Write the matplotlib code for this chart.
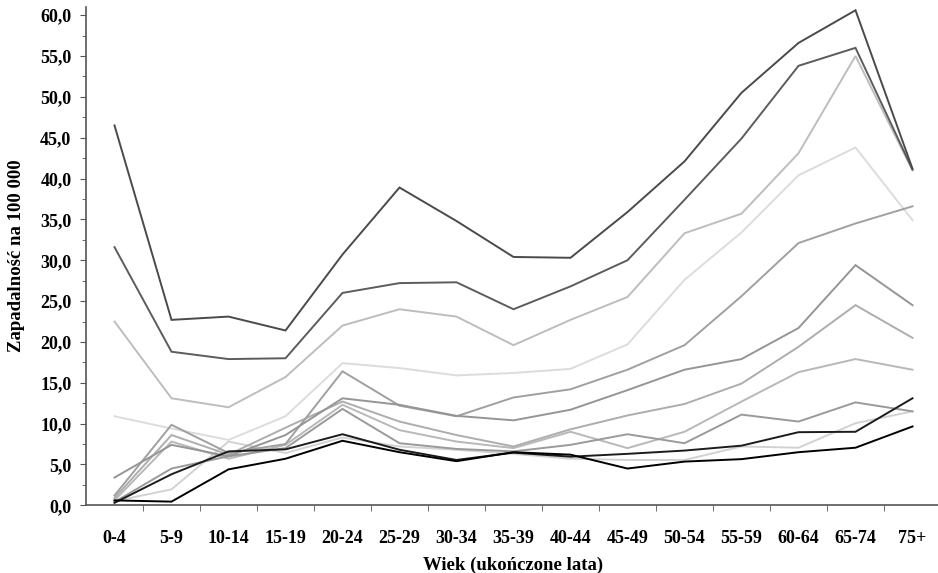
import matplotlib
matplotlib.use('Agg')
import matplotlib.pyplot as plt
from matplotlib.ticker import MultipleLocator, FuncFormatter

plt.rcParams['font.family'] = ['Liberation Serif', 'DejaVu Serif']
plt.rcParams['font.weight'] = 'bold'

# ==================== dane ====================
wiek = ['0-4', '5-9', '10-14', '15-19', '20-24', '25-29', '30-34', '35-39',
        '40-44', '45-49', '50-54', '55-59', '60-64', '65-74', '75+']

s_a = [46.5, 22.7, 23.1, 21.4, 30.7, 38.9, 34.8, 30.4, 30.3, 35.9, 42.1, 50.5, 56.6, 60.6, 41.2]
s_b = [31.6, 18.8, 17.9, 18.0, 26.0, 27.2, 27.3, 24.0, 26.8, 30.0, 37.4, 44.9, 53.8, 56.0, 41.1]
s_c = [22.5, 13.1, 12.0, 15.7, 22.0, 24.0, 23.1, 19.6, 22.7, 25.5, 33.3, 35.7, 43.1, 55.0, 41.0]
s_d = [10.9, 9.4, 8.0, 10.9, 17.4, 16.8, 15.9, 16.2, 16.7, 19.7, 27.6, 33.4, 40.4, 43.8, 34.9]
s_e = [1.2, 9.85, 6.4, 7.5, 16.4, 12.2, 10.9, 13.2, 14.2, 16.6, 19.6, 25.6, 32.1, 34.5, 36.6]
s_f = [3.4, 7.4, 6.0, 8.6, 13.1, 12.3, 10.95, 10.4, 11.7, 14.1, 16.6, 17.9, 21.7, 29.4, 24.5]
s_g = [0.9, 8.6, 6.2, 9.5, 12.7, 10.25, 8.6, 7.2, 9.3, 11.0, 12.4, 14.9, 19.4, 24.5, 20.5]
s_h = [0.6, 7.8, 5.7, 7.4, 12.3, 9.2, 7.8, 7.0, 9.0, 7.0, 9.0, 12.7, 16.3, 17.9, 16.6]
s_i = [0.4, 4.5, 6.0, 7.0, 11.8, 7.6, 6.9, 6.6, 7.4, 8.7, 7.6, 11.1, 10.25, 12.6, 11.5]
s_k = [0.5, 1.95, 7.8, 6.4, 8.3, 7.2, 6.8, 6.3, 5.7, 5.55, 5.55, 7.2, 7.05, 10.05, 11.5]
s_j = [0.3, 3.8, 6.6, 6.85, 8.7, 6.8, 5.55, 6.45, 5.95, 6.3, 6.7, 7.3, 8.95, 9.0, 13.1]
s_l = [0.6, 0.45, 4.4, 5.7, 7.9, 6.5, 5.4, 6.5, 6.2, 4.5, 5.35, 5.65, 6.5, 7.05, 9.65]
# ==============================================

serie = [
    (s_d, '#dcdcdc'),
    (s_k, '#d2d2d2'),
    (s_c, '#bdbdbd'),
    (s_h, '#b8b8b8'),
    (s_g, '#adadad'),
    (s_e, '#a0a0a0'),
    (s_i, '#9a9a9a'),
    (s_f, '#959595'),
    (s_b, '#5c5c5c'),
    (s_a, '#4a4a4a'),
    (s_j, '#1c1c1c'),
    (s_l, '#000000'),
]

fig = plt.figure(figsize=(9.38, 5.73), dpi=100)
ax = fig.add_axes([86/938, 67.7/573, 855/938, 498.3/573])

x = list(range(len(wiek)))
for vals, col in serie:
    ax.plot(x, vals, color=col, linewidth=1.4, solid_joinstyle='miter')

ax.set_xlim(-0.5, len(wiek) - 0.5)
ax.set_ylim(0, 61)

ax.yaxis.set_major_locator(MultipleLocator(5))
ax.yaxis.set_minor_locator(MultipleLocator(2.5))
ax.yaxis.set_major_formatter(FuncFormatter(lambda v, p: f'{v:.1f}'.replace('.', ',')))

ax.set_xticks(x)
ax.set_xticklabels(wiek)
ax.set_xticks([i + 0.5 for i in x[:-1]], minor=True)
ax.tick_params(axis='x', which='major', length=0, pad=18, labelsize=13)
ax.tick_params(axis='x', which='minor', length=4, direction='out', color='#555555')
ax.tick_params(axis='y', which='major', length=4.5, direction='out', pad=6, labelsize=13, color='#555555')
ax.tick_params(axis='y', which='minor', length=3, direction='out', color='#555555')

for lab in ax.get_xticklabels() + ax.get_yticklabels():
    lab.set_fontweight('bold')

for s in ['top', 'right']:
    ax.spines[s].set_visible(False)
for s in ['left', 'bottom']:
    ax.spines[s].set_color('#555555')
    ax.spines[s].set_linewidth(1.2)

ax.set_xlabel('Wiek (ukończone lata)', fontsize=13.5, fontweight='bold', labelpad=7)
ax.set_ylabel('Zapadalność na 100 000', fontsize=13.5, fontweight='bold', labelpad=11)

fig.savefig('out.png', dpi=100)
